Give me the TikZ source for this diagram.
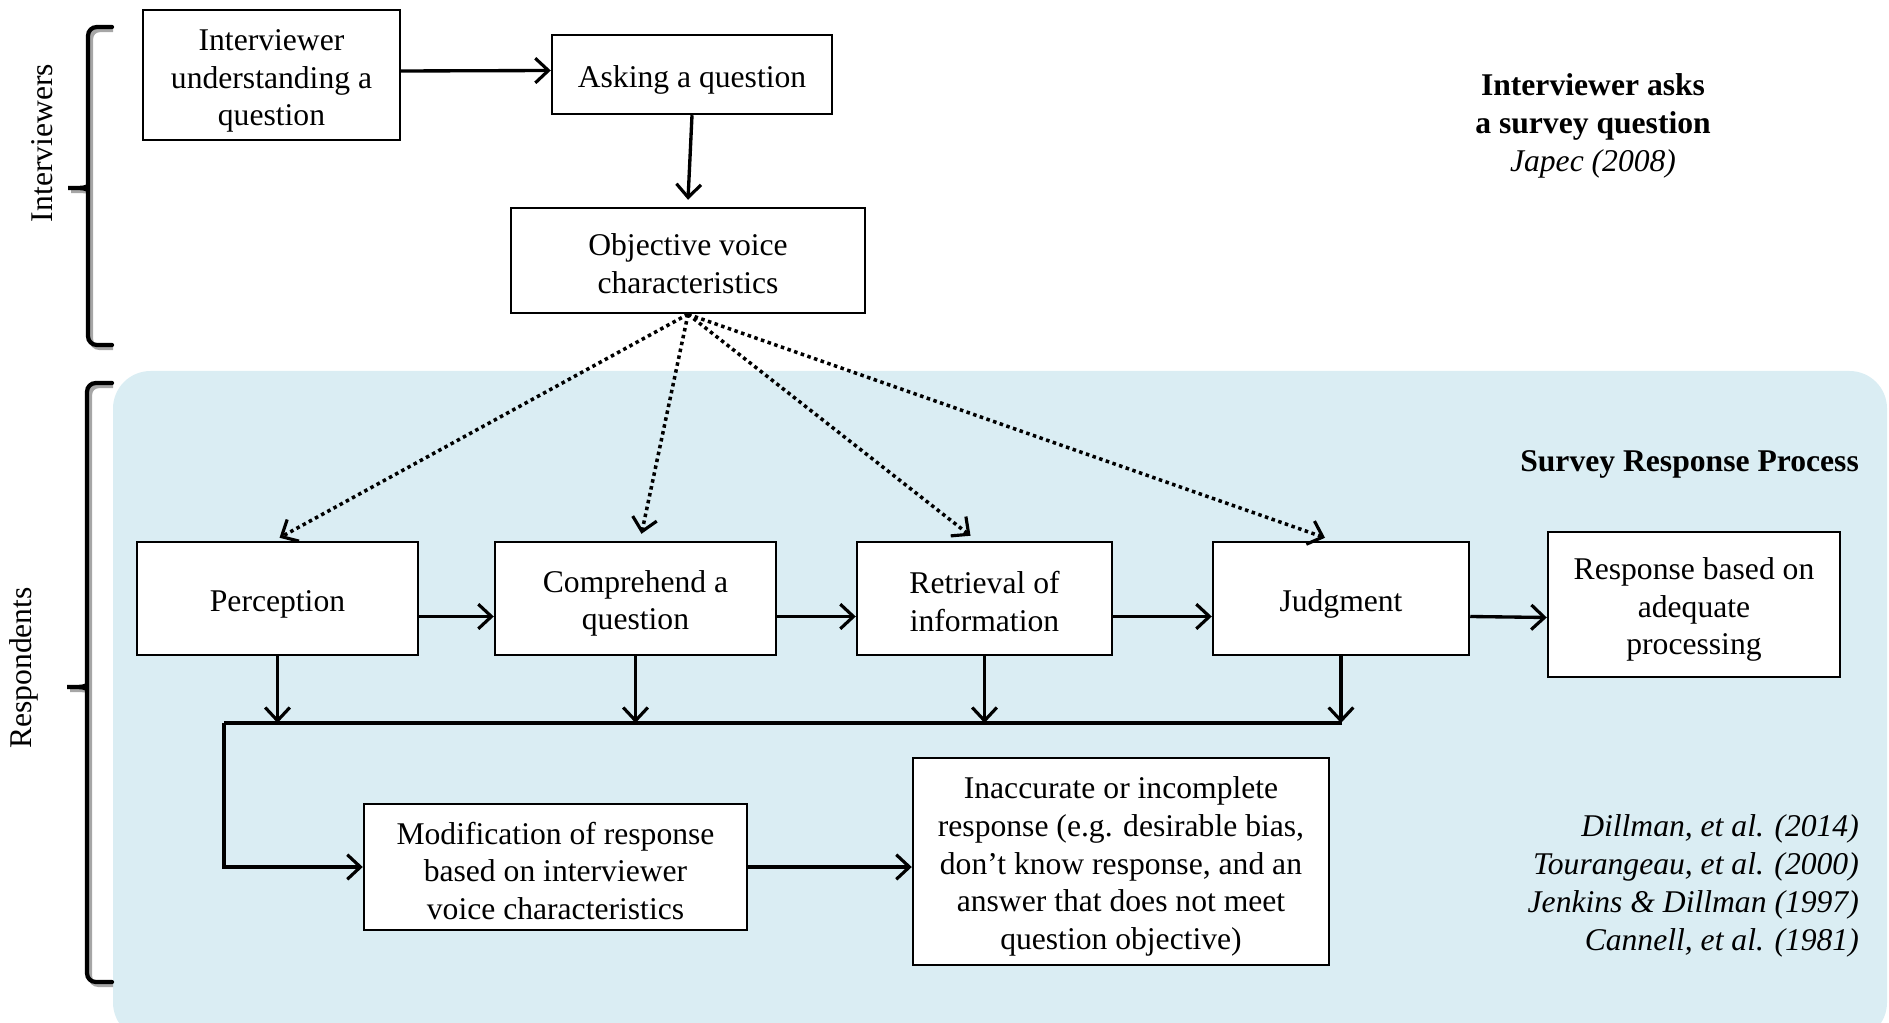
\documentclass[tikz,border=0pt]{standalone}
\usepackage{fontspec}
\setmainfont{Liberation Serif}
\usetikzlibrary{arrows.meta,calc}
\definecolor{bgblue}{RGB}{218,237,243}
\begin{document}
\begin{tikzpicture}[x=0.02cm,y=-0.02cm,
  txt/.style={font=\fontsize{18}{21.5}\selectfont},
  box/.style={draw,line width=1.4pt,fill=white,inner sep=0pt},
  btxt/.style={txt,align=center,inner sep=0pt},
  sz/.style 2 args={minimum width=#1*0.02cm,minimum height=#2*0.02cm},
  tip/.style={-{Straight Barb[length=7.5pt,width=14pt,line width=1.8pt]}},
  arr/.style={line width=1.9pt,tip},
  dotarr/.style={line width=2pt,dash pattern=on 2pt off 2pt,tip},
  brace/.style={line width=2.4pt,rounded corners=5pt,line cap=round},
  braceshadow/.style={line width=2.4pt,rounded corners=5pt,draw=black!35}]
\useasboundingbox (0,0) rectangle (1889,1023);
% background panel
\fill[bgblue,rounded corners=0.75cm] (113,371) rectangle (1887,1040);
\path[fill=white] (0,1023) rectangle (1889,1045);

% braces
\draw[braceshadow] (113,30) -- (91,30) -- (91,185) .. controls (91,191) and (83,191) .. (66,191) .. controls (83,191) and (91,191) .. (91,197) -- (91,348) -- (113,348);
\draw[brace] (112,27) -- (88,27) -- (88,182) .. controls (88,188) and (80,188) .. (63,188) .. controls (80,188) and (88,188) .. (88,194) -- (88,345) -- (112,345);
\draw[braceshadow] (113,386) -- (90,386) -- (90,684) .. controls (90,690) and (82,690) .. (65,690) .. controls (82,690) and (90,690) .. (90,696) -- (90,985) -- (113,985);
\draw[brace] (112,383) -- (87,383) -- (87,681) .. controls (87,687) and (79,687) .. (62,687) .. controls (79,687) and (87,687) .. (87,693) -- (87,982) -- (112,982);
\node[txt,rotate=90] (lint) at (42,143) {Interviewers};
\node[txt,rotate=90] (lres) at (24,668) {Respondents};

% boxes
\node[box,sz={257}{130}] (iu) at (271.5,75) {};
\node[btxt] (iuT) at ($(iu)+(0,6)$) {Interviewer\\understanding a\\question};
\node[box,sz={280}{79}] (ask) at (692,74.5) {};
\node[btxt] (askT) at ($(ask)+(0,5)$) {Asking a question};
\node[box,sz={354}{105}] (obj) at (688,260.5) {};
\node[btxt] (objT) at ($(obj)+(0,3)$) {Objective voice\\characteristics};
\node[box,sz={281}{113}] (perc) at (277.5,598.5) {};
\node[btxt] (percT) at ($(perc)+(0,6)$) {Perception};
\node[box,sz={281}{113}] (comp) at (635.5,598.5) {};
\node[btxt] (compT) at ($(comp)+(0,5)$) {Comprehend a\\question};
\node[box,sz={255}{113}] (retr) at (984.5,598.5) {};
\node[btxt] (retrT) at ($(retr)+(0,3)$) {Retrieval of\\information};
\node[box,sz={256}{113}] (judg) at (1341,598.5) {};
\node[btxt] (judgT) at ($(judg)+(0,5)$) {Judgment};
\node[box,sz={292}{145}] (resp) at (1694,604.5) {};
\node[btxt] (respT) at ($(resp)+(0,5)$) {Response based on\\adequate\\processing};
\node[box,sz={383}{126}] (mod) at (555.5,867) {};
\node[btxt] (modT) at ($(mod)+(0,4)$) {Modification of response\\based on interviewer\\voice characteristics};
\node[box,sz={416}{207}] (inacc) at (1121,861.5) {};
\node[btxt] (inaccT) at ($(inacc)+(0,5)$) {Inaccurate or incomplete\\response (e.g. desirable bias,\\don’t know response, and an\\answer that does not meet\\question objective)};

% side texts
\node[txt,align=center] (head) at (1593,126) {\textbf{Interviewer asks}\\\textbf{a survey question}\\\textit{Japec (2008)}};
\node[txt,anchor=east] (srp) at (1865,464) {\textbf{Survey Response Process}};
\node[txt,align=right,anchor=east] (refs) at (1865,886) {\textit{Dillman, et al. (2014)}\\\textit{Tourangeau, et al. (2000)}\\\textit{Jenkins \& Dillman (1997)}\\\textit{Cannell, et al. (1981)}};

% solid arrows
\draw[arr] ($(iu.east)+(0,-4)$) -- ($(ask.west)+(0,-4)$);
\draw[arr] (ask.south) -- ($(obj.north)+(0,-7)$);
\draw[arr] ($(perc.east)+(0,18)$) -- ($(comp.west)+(0,18)$);
\draw[arr] ($(comp.east)+(0,18)$) -- ($(retr.west)+(0,18)$);
\draw[arr] ($(retr.east)+(0,18)$) -- ($(judg.west)+(0,18)$);
\draw[arr] ($(judg.east)+(0,18)$) -- ($(resp.west)+(0,13)$);

% bus
\coordinate (busL) at (224,723);
\coordinate (busR) at (1342,723);
\draw[line width=1.9pt] (busL) -- (busR);
\draw[arr] (perc.south) -- (perc.south |- busL);
\draw[arr] (comp.south) -- (comp.south |- busL);
\draw[arr] (retr.south) -- (retr.south |- busL);
\draw[arr] (judg.south) -- (judg.south |- busL);
\draw[arr] (busL) -- (busL |- mod.west) -- (mod.west);
\draw[arr] (mod.east) -- (inacc.west |- mod.east);

% dotted arrows
\draw[dotarr] (obj.south) -- ($(perc.north)+(2,-3)$);
\draw[dotarr] (obj.south) -- ($(comp.north)+(6,-7)$);
\draw[dotarr] (obj.south) -- ($(retr.north)+(-14,-5)$);
\draw[dotarr] (obj.south) -- ($(judg.north)+(-16,-3)$);
\end{tikzpicture}
\end{document}
